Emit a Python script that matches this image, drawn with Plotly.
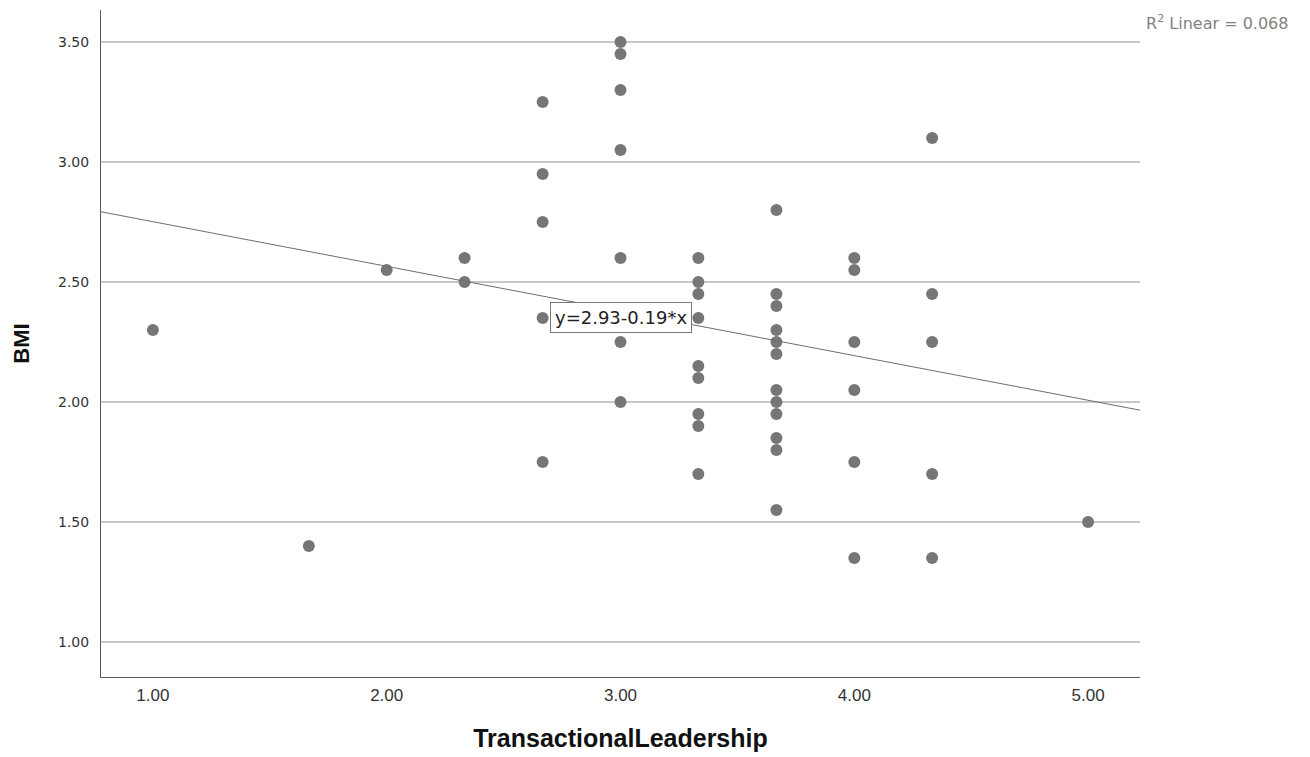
import plotly.graph_objects as go

# Data
tl_x = [1.00, 1.667, 2.00, 2.333, 2.333,
        2.667, 2.667, 2.667, 2.667, 2.667,
        3.00, 3.00, 3.00, 3.00, 3.00, 3.00, 3.00, 3.00,
        3.333, 3.333, 3.333, 3.333, 3.333, 3.333, 3.333, 3.333, 3.333,
        3.667, 3.667, 3.667, 3.667, 3.667, 3.667, 3.667, 3.667, 3.667, 3.667, 3.667, 3.667,
        4.00, 4.00, 4.00, 4.00, 4.00, 4.00,
        4.333, 4.333, 4.333, 4.333, 4.333,
        5.00]
bmi_y = [2.30, 1.40, 2.55, 2.60, 2.50,
         3.25, 2.95, 2.75, 2.35, 1.75,
         3.50, 3.45, 3.30, 3.05, 2.60, 2.35, 2.25, 2.00,
         2.60, 2.50, 2.45, 2.35, 2.15, 2.10, 1.95, 1.90, 1.70,
         2.80, 2.45, 2.40, 2.30, 2.25, 2.20, 2.05, 2.00, 1.95, 1.85, 1.80, 1.55,
         2.60, 2.55, 2.25, 2.05, 1.75, 1.35,
         3.10, 2.45, 2.25, 1.70, 1.35,
         1.50]

fit_intercept = 2.937
fit_slope = -0.186
x_range = [0.778, 5.222]
y_range = [0.854, 3.633]
x_ticks = [1, 2, 3, 4, 5]
y_ticks = [1.0, 1.5, 2.0, 2.5, 3.0, 3.5]
eq_label = "y=2.93-0.19*x"
r2_label = "R<sup>2</sup> Linear = 0.068"

W, H = 1310, 757
ML, MR, MT, MB = 101, 170, 10, 80

fig = go.Figure()
fig.add_trace(go.Scatter(
    x=tl_x, y=bmi_y, mode="markers",
    marker=dict(size=12, color="rgb(118,118,118)", line=dict(width=0)),
    showlegend=False, hoverinfo="x+y"))

fit_y = [fit_intercept + fit_slope * v for v in x_range]
fig.add_trace(go.Scatter(
    x=x_range, y=fit_y, mode="lines",
    line=dict(color="rgb(110,110,110)", width=1),
    showlegend=False, hoverinfo="skip"))

pa_w = W - ML - MR
pa_h = H - MT - MB

fig.update_layout(
    width=W, height=H,
    margin=dict(l=ML, r=MR, t=MT, b=MB),
    paper_bgcolor="white", plot_bgcolor="white",
    annotations=[
        dict(x=3.0, y=2.35, xref="x", yref="y", text=eq_label,
             showarrow=False, bgcolor="white", bordercolor="rgb(120,120,120)",
             borderwidth=1, borderpad=4,
             font=dict(family="DejaVu Sans", size=18, color="#222")),
        dict(x=(1290 - ML) / pa_w, y=(H - MB - 22) / pa_h, xref="paper", yref="paper",
             text=r2_label, showarrow=False, xanchor="right", yanchor="middle",
             font=dict(family="DejaVu Sans", size=16, color="rgb(130,130,130)")),
    ],
    xaxis=dict(range=x_range, tickvals=x_ticks, ticktext=["%.2f" % v for v in x_ticks],
               showgrid=False, zeroline=False, showline=True, linecolor="rgb(90,90,90)",
               linewidth=1, ticks="", ticklen=0, ticklabelstandoff=3, automargin=False,
               tickfont=dict(family="Liberation Sans", size=17, color="#333"),
               title=dict(text="<b>TransactionalLeadership</b>", standoff=25,
                          font=dict(family="Liberation Sans", size=25, color="#111"))),
    yaxis=dict(range=y_range, tickvals=y_ticks, ticktext=["%.2f" % v for v in y_ticks],
               showgrid=True, gridcolor="rgb(200,200,200)", gridwidth=1.5,
               zeroline=False, showline=True, linecolor="rgb(90,90,90)", linewidth=1,
               ticks="", ticklen=0, ticklabelstandoff=8, automargin=False,
               tickfont=dict(family="DejaVu Sans", size=14, color="#333"),
               title=dict(text="<b>BMI</b>", standoff=22,
                          font=dict(family="Liberation Sans", size=22, color="#111"))),
)
fig.write_html("out.html")
